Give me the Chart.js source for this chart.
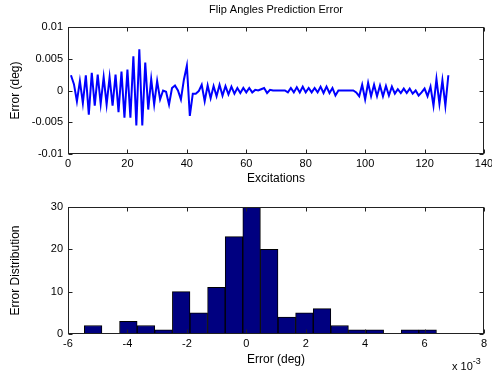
<!DOCTYPE html>
<html>
<head>
<meta charset="utf-8">
<script src="https://cdn.jsdelivr.net/npm/chart.js@4.4.0/dist/chart.umd.min.js"></script>
<style>
  body { margin: 0; background: #fff; }
  #wrap { position: relative; width: 492px; height: 370px; }
  .box { position: absolute; left: 0; width: 492px; }
  #topBox { top: 0; height: 190px; }
  #botBox { top: 190px; height: 180px; }
  #expo { position: absolute; left: 452px; top: 357px; font: 11px "Liberation Sans", Arial, sans-serif; color: #000; white-space: nowrap; }
  #expo sup { font-size: 9px; position: relative; top: -1px; }
</style>
</head>
<body>
<div id="wrap">
  <div class="box" id="topBox"><canvas id="chartErr"></canvas></div>
  <div class="box" id="botBox"><canvas id="chartHist"></canvas></div>
  <div id="expo">x 10<sup>-3</sup></div>
</div>
<script>
// Prediction error per excitation (deg), excitations 1..128
const errors = [
  0.0024, 0.0010, -0.0017, 0.0015, -0.0020, 0.0024, -0.0038, 0.0028, -0.0024, 0.0025,
  -0.0021, 0.0021, -0.0022, 0.0021, -0.0024, 0.0025, -0.0034, 0.0030, -0.0043, 0.0033,
  -0.0043, 0.0054, -0.0055, 0.0065, -0.0055, 0.0044, -0.0030, 0.0018, -0.0022, 0.0015,
  -0.0014, 0.0000, -0.0002, -0.0022, 0.0004, 0.0008, 0.0000, -0.0014, 0.0017, 0.0039,
  -0.0040, -0.0005, -0.0005, -0.0001, 0.0009, -0.0017, 0.0008, -0.0012, 0.0007, -0.0009,
  0.0009, -0.0008, 0.0007, -0.0006, 0.0006, -0.0005, 0.0004, -0.0004, 0.0004, -0.0003,
  0.0004, -0.0003, 0.0001, 0.0000, 0.0002, 0.0004, -0.0004, 0.0001, 0.0000, 0.0000,
  0.0000, 0.0000, 0.0000, -0.0003, 0.0004, -0.0003, 0.0005, -0.0003, 0.0006, -0.0003,
  0.0004, -0.0003, 0.0004, -0.0003, 0.0006, -0.0004, 0.0006, -0.0004, 0.0004, -0.0008,
  0.0000, 0.0000, 0.0000, 0.0000, 0.0000, 0.0000, -0.0003, -0.0009, 0.0009, -0.0014,
  0.0012, -0.0009, 0.0009, -0.0009, 0.0008, -0.0009, 0.0007, -0.0008, 0.0006, -0.0005,
  0.0002, -0.0004, 0.0003, -0.0004, 0.0003, -0.0005, 0.0000, -0.0008, -0.0003, 0.0003,
  -0.0009, 0.0006, -0.0024, 0.0018, -0.0021, 0.0016, -0.0024, 0.0024
];

// Histogram bins (centres in units of 1e-3 deg) and counts
const binCenters = [
  -5.154, -4.561, -3.969, -3.376, -2.784, -2.191, -1.599, -1.006, -0.414, 0.179,
  0.771, 1.364, 1.956, 2.549, 3.141, 3.734, 4.326, 4.919, 5.511, 6.104
];
const binCounts = [2, 0, 3, 2, 1, 10, 5, 11, 23, 30, 20, 4, 5, 6, 2, 1, 1, 0, 1, 1];

const FONT = "'Liberation Sans', Arial, sans-serif";
Chart.defaults.font.family = FONT;
Chart.defaults.color = "#000";

// MATLAB-style box with inward tick marks, plus optional title over the axes
const matlabBox = {
  id: "matlabBox",
  afterDatasetsDraw(chart, args, opts) {
    const { ctx, chartArea: a, scales } = chart;
    const L = Math.round(a.left) + 0.5, R = Math.round(a.right) - 0.5;
    const T = Math.round(a.top) + 0.5, B = Math.round(a.bottom) - 0.5;
    ctx.save();
    ctx.strokeStyle = "#222";
    ctx.lineWidth = 1;
    ctx.beginPath();
    scales.x.ticks.forEach(t => {
      const px = Math.round(scales.x.getPixelForValue(t.value)) + 0.5;
      ctx.moveTo(px, B); ctx.lineTo(px, B - 4);
      ctx.moveTo(px, T); ctx.lineTo(px, T + 4);
    });
    scales.y.ticks.forEach(t => {
      const py = Math.round(scales.y.getPixelForValue(t.value)) + 0.5;
      ctx.moveTo(L, py); ctx.lineTo(L + 4, py);
      ctx.moveTo(R, py); ctx.lineTo(R - 4, py);
    });
    ctx.stroke();
    ctx.strokeRect(L, T, R - L, B - T);
    if (opts && opts.title) {
      ctx.fillStyle = "#000";
      ctx.font = "11px " + FONT;
      ctx.textAlign = "center";
      ctx.textBaseline = "middle";
      ctx.fillText(opts.title, (a.left + a.right) / 2, 10);
    }
    ctx.restore();
  }
};

function fixY(width) {
  return scale => { scale.width = width; scale.paddingTop = 0; scale.paddingBottom = 0; };
}
function fixX(height) {
  return scale => { scale.height = height; scale.paddingLeft = 0; scale.paddingRight = 0; };
}

const tickFont = { size: 11 };
const titleFont = { size: 12 };
const noGrid = { display: false, drawTicks: false };

function fmt(v) {
  return String(+v.toFixed(4));
}

new Chart(document.getElementById("chartErr"), {
  type: "line",
  data: {
    datasets: [{
      data: errors.map((v, i) => ({ x: i + 1, y: v })),
      borderColor: "#0000ff",
      borderWidth: 2,
      pointRadius: 0,
      tension: 0,
      fill: false,
    }],
  },
  options: {
    responsive: true,
    maintainAspectRatio: false,
    animation: false,
    layout: { padding: { left: 0, right: 8, top: 27, bottom: 0 } },
    plugins: {
      legend: { display: false },
      tooltip: { enabled: false },
      matlabBox: { title: "Flip Angles Prediction Error" },
    },
    scales: {
      x: {
        type: "linear",
        min: 0, max: 140,
        grid: noGrid,
        border: { display: false },
        ticks: { stepSize: 20, font: tickFont, padding: 3, maxRotation: 0 },
        title: { display: true, text: "Excitations", font: titleFont, padding: { top: 0, bottom: 4 } },
        afterFit: fixX(36),
      },
      y: {
        min: -0.01, max: 0.01,
        grid: noGrid,
        border: { display: false },
        ticks: { stepSize: 0.005, font: tickFont, padding: 5, callback: fmt },
        title: { display: true, text: "Error (deg)", font: titleFont, padding: { top: 8, bottom: 0 } },
        afterFit: fixY(68),
      },
    },
  },
  plugins: [matlabBox],
});

new Chart(document.getElementById("chartHist"), {
  type: "bar",
  data: {
    datasets: [{
      data: binCenters.map((c, i) => ({ x: c, y: binCounts[i] })),
      backgroundColor: "#000080",
      borderColor: "#000",
      borderWidth: 1,
      borderSkipped: false,
      barPercentage: 1,
      categoryPercentage: 1,
      grouped: false,
    }],
  },
  options: {
    responsive: true,
    maintainAspectRatio: false,
    animation: false,
    layout: { padding: { left: 0, right: 8, top: 17, bottom: 0 } },
    plugins: { legend: { display: false }, tooltip: { enabled: false } },
    scales: {
      x: {
        type: "linear",
        offset: false,
        min: -6, max: 8,
        grid: noGrid,
        border: { display: false },
        ticks: { stepSize: 2, font: tickFont, padding: 3, maxRotation: 0 },
        title: { display: true, text: "Error (deg)", font: titleFont, padding: { top: 0, bottom: 3 } },
        afterFit: fixX(36),
      },
      y: {
        min: 0, max: 30,
        grid: noGrid,
        border: { display: false },
        ticks: { stepSize: 10, font: tickFont, padding: 5 },
        title: { display: true, text: "Error Distribution", font: titleFont, padding: { top: 8, bottom: 0 } },
        afterFit: fixY(68),
      },
    },
  },
  plugins: [matlabBox],
});
</script>
</body>
</html>
